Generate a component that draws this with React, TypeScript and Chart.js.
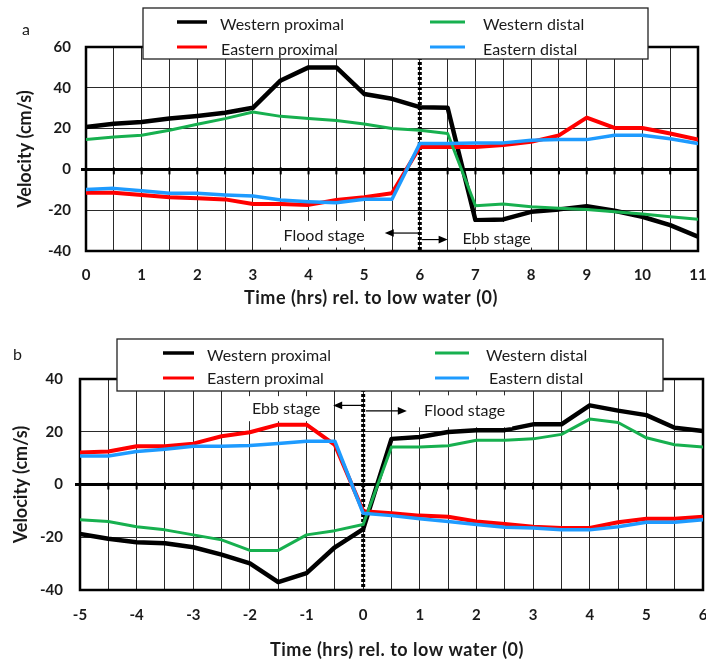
import React, { useEffect, useRef } from 'react';
import { Chart, registerables } from 'chart.js';

Chart.register(...registerables);

// ---------- DATA ----------
const seriesLabels = ['Western proximal', 'Eastern proximal', 'Western distal', 'Eastern distal'];
const seriesColors = ['#000000', '#ff0000', '#17b04f', '#1e9bff'];

// Panel a: time (hrs) relative to low water
const timeA = [0, 0.5, 1, 1.5, 2, 2.5, 3, 3.5, 4, 4.5, 5, 5.5, 6, 6.5, 7, 7.5, 8, 8.5, 9, 9.5, 10, 10.5, 11];
const aWesternProximal = [20.8, 22.4, 23.2, 24.9, 26.2, 27.8, 30.2, 43.6, 50, 50, 37, 34.6, 30.5, 30.2, -24.9, -24.5, -20.8, -19.6, -18, -20.3, -23.2, -27.3, -33];
const aEasternProximal = [-11.4, -11.4, -12.5, -13.7, -14.2, -14.7, -17, -17, -17.4, -15, -13.6, -11.7, 11, 11, 11, 11.9, 13.5, 16.7, 25.4, 20.3, 20.3, 17.6, 14.6];
const aWesternDistal = [14.6, 15.9, 16.7, 19.2, 22.1, 24.9, 28.1, 26, 24.9, 24, 22.3, 20, 19.2, 17.6, -17.8, -17, -18.3, -19.1, -19.6, -20.8, -21.9, -23.2, -24.5];
const aEasternDistal = [-9.8, -9.3, -10.5, -11.7, -11.7, -12.5, -13, -15, -15.8, -16.3, -14.6, -14.6, 12.7, 12.7, 13, 13, 14.3, 14.6, 14.6, 16.7, 16.7, 15, 12.7];
const yRangeA = [-40, 60];
const xRangeA = [0, 11];

// Panel b
const timeB = [-5, -4.5, -4, -3.5, -3, -2.5, -2, -1.5, -1, -0.5, 0, 0.5, 1, 1.5, 2, 2.5, 3, 3.5, 4, 4.5, 5, 5.5, 6];
const bWesternProximal = [-18.8, -20.6, -21.9, -22.3, -23.8, -26.6, -29.9, -37, -33.6, -23.8, -16.9, 17.3, 18, 19.9, 20.6, 20.6, 22.8, 22.8, 30, 28, 26.3, 21.5, 20.3];
const bEasternProximal = [12.1, 12.5, 14.5, 14.5, 15.5, 18.3, 19.8, 22.7, 22.7, 15, -10.1, -10.9, -11.8, -12.2, -14, -15, -16, -16.5, -16.5, -14.3, -13, -13, -12.2];
const bWesternDistal = [-13.4, -14, -16, -17.2, -19.1, -21, -25, -25, -19.1, -17.5, -15.2, 14.2, 14.2, 14.7, 16.8, 16.8, 17.3, 19, 24.8, 23.5, 17.7, 15.1, 14.2];
const bEasternDistal = [10.8, 10.8, 12.5, 13.4, 14.5, 14.5, 14.8, 15.5, 16.4, 16.4, -10.9, -11.8, -13, -14, -15.2, -16.2, -16.5, -17.2, -17.2, -16, -14.3, -14.3, -13.4];
const yRangeB = [-40, 40];
const xRangeB = [-5, 6];

const xTitle = 'Time (hrs) rel. to low water (0)';
const yTitle = 'Velocity (cm/s)';

// ---------- STYLE ----------
const FONT = 'Lato, "Open Sans", sans-serif';
const TEXT = '#1a1a1a';
const GRID = '#2a2a2a';
const seriesWidths = [4.5, 4, 3, 3.5];
const seriesOrder = [3, 2, 1, 0];
const legendWidths = [3.5, 3, 3, 3];

type Note = { text: string; x: number; y: number; box: [number, number, number, number] };
type Arrow = { from: number; to: number; y: number };

type PanelCfg = {
  time: number[];
  series: number[][];
  xRange: number[];
  yRange: number[];
  height: number;
  top: number;
  padTop: number;
  padRight: number;
  yAxisWidth: number;
  xAxisHeight: number;
  yTickPad: number;
  xTickPad: number;
  yTitlePad: number;
  xTitlePos: [number, number];
  dividerX: number;
  notes: Note[];
  arrows: Arrow[];
  legend: {
    box: [number, number, number, number];
    lineX: [number, number][];
    textX: number[];
    lineY: number[];
    textY: number[];
  };
  letter: string;
  letterPos: [number, number];
};

const panelA: PanelCfg = {
  time: timeA,
  series: [aWesternProximal, aEasternProximal, aWesternDistal, aEasternDistal],
  xRange: xRangeA,
  yRange: yRangeA,
  height: 320,
  top: 0,
  padTop: 47,
  padRight: 8,
  yAxisWidth: 86,
  xAxisHeight: 69,
  yTickPad: 15,
  xTickPad: 15,
  yTitlePad: 14,
  xTitlePos: [371, 298],
  dividerX: 6,
  notes: [
    { text: 'Flood stage', x: 4.28, y: -32.7, box: [3.45, 5.07, -25.3, -38.3] },
    { text: 'Ebb stage', x: 7.38, y: -33.9, box: [6.6, 8.2, -25.8, -38.3] },
  ],
  arrows: [
    { from: 6, to: 5.37, y: -31.2 },
    { from: 6.04, to: 6.5, y: -34.4 },
  ],
  legend: {
    box: [143, 8, 505, 51],
    lineX: [[177, 207], [177, 207], [430, 465], [430, 465]],
    textX: [220, 221, 483, 483],
    lineY: [22, 47, 22, 47],
    textY: [25, 50, 25, 50],
  },
  letter: 'a',
  letterPos: [22, 30],
};

const panelB: PanelCfg = {
  time: timeB,
  series: [bWesternProximal, bEasternProximal, bWesternDistal, bEasternDistal],
  xRange: xRangeB,
  yRange: yRangeB,
  height: 344,
  top: 320,
  padTop: 59,
  padRight: 3,
  yAxisWidth: 80,
  xAxisHeight: 74,
  yTickPad: 17,
  xTickPad: 16,
  yTitlePad: 10,
  xTitlePos: [397, 330],
  dividerX: 0,
  notes: [
    { text: 'Ebb stage', x: -1.36, y: 28.5, box: [-2.09, -0.59, 33.5, 24] },
    { text: 'Flood stage', x: 1.79, y: 27.8, box: [0.91, 2.63, 33.8, 21.7] },
  ],
  arrows: [
    { from: 0, to: -0.53, y: 30 },
    { from: 0.05, to: 0.77, y: 27.9 },
  ],
  legend: {
    box: [117, 19, 546, 52],
    lineX: [[163, 194], [163, 194], [435, 469], [435, 469]],
    textX: [207, 207, 486, 489],
    lineY: [33, 58, 33, 58],
    textY: [36, 59, 36, 59],
  },
  letter: 'b',
  letterPos: [13, 35],
};

function makeOverlay(p: PanelCfg) {
  return {
    id: 'overlay',
    beforeDatasetsDraw(chart: any) {
      const { ctx, chartArea: a, scales } = chart;
      const x = scales.x;
      const y = scales.y;
      const y0 = y.getPixelForValue(0);
      ctx.save();
      ctx.strokeStyle = '#000';
      // zero line
      ctx.lineWidth = 3;
      ctx.beginPath();
      ctx.moveTo(a.left - 5, y0);
      ctx.lineTo(a.right, y0);
      ctx.stroke();
      // ticks on zero line
      ctx.lineWidth = 2;
      x.ticks.forEach((t: any) => {
        const px = x.getPixelForValue(t.value);
        ctx.beginPath();
        ctx.moveTo(px, y0 - 2);
        ctx.lineTo(px, y0 + 5);
        ctx.stroke();
      });
      // dotted divider
      const dx = x.getPixelForValue(p.dividerX);
      ctx.setLineDash([3, 2]);
      ctx.lineWidth = 4;
      ctx.beginPath();
      ctx.moveTo(dx, a.top);
      ctx.lineTo(dx, a.bottom);
      ctx.stroke();
      ctx.setLineDash([]);
      // frame
      ctx.lineWidth = 2.5;
      ctx.strokeRect(a.left, a.top, a.right - a.left, a.bottom - a.top);
      ctx.restore();
    },
    afterDatasetsDraw(chart: any) {
      const { ctx, scales } = chart;
      const x = scales.x;
      const y = scales.y;
      ctx.save();
      // note boxes and text
      p.notes.forEach((n) => {
        const x1 = x.getPixelForValue(n.box[0]);
        const x2 = x.getPixelForValue(n.box[1]);
        const y1 = y.getPixelForValue(n.box[2]);
        const y2 = y.getPixelForValue(n.box[3]);
        ctx.fillStyle = '#fff';
        ctx.fillRect(x1, y1, x2 - x1, y2 - y1);
      });
      ctx.fillStyle = TEXT;
      ctx.font = `16px ${FONT}`;
      ctx.textAlign = 'center';
      ctx.textBaseline = 'middle';
      p.notes.forEach((n) => {
        ctx.fillText(n.text, x.getPixelForValue(n.x), y.getPixelForValue(n.y));
      });
      // arrows
      ctx.strokeStyle = '#000';
      ctx.fillStyle = '#000';
      ctx.lineWidth = 1.2;
      p.arrows.forEach((ar) => {
        const x1 = x.getPixelForValue(ar.from);
        const x2 = x.getPixelForValue(ar.to);
        const py = y.getPixelForValue(ar.y);
        const dir = Math.sign(x2 - x1);
        ctx.beginPath();
        ctx.moveTo(x1, py);
        ctx.lineTo(x2 - dir * 6, py);
        ctx.stroke();
        ctx.beginPath();
        ctx.moveTo(x2, py);
        ctx.lineTo(x2 - dir * 9, py - 3.8);
        ctx.lineTo(x2 - dir * 9, py + 3.8);
        ctx.closePath();
        ctx.fill();
      });
      // x-axis title
      ctx.fillStyle = TEXT;
      ctx.font = `bold 18px ${FONT}`;
      try {
        (ctx as any).letterSpacing = '0.5px';
      } catch (e) {}
      ctx.textAlign = 'center';
      ctx.textBaseline = 'middle';
      ctx.fillText(xTitle, p.xTitlePos[0], p.xTitlePos[1]);
      try {
        (ctx as any).letterSpacing = '0px';
      } catch (e) {}
      // legend
      const L = p.legend;
      ctx.fillStyle = '#fff';
      ctx.fillRect(L.box[0], L.box[1], L.box[2], L.box[3]);
      ctx.strokeStyle = '#222';
      ctx.lineWidth = 1.3;
      ctx.strokeRect(L.box[0], L.box[1], L.box[2], L.box[3]);
      ctx.font = `16px ${FONT}`;
      ctx.textAlign = 'left';
      ctx.textBaseline = 'middle';
      chart.data.datasets.forEach((ds: any, i: number) => {
        ctx.strokeStyle = ds.borderColor;
        ctx.lineWidth = legendWidths[i];
        ctx.beginPath();
        ctx.moveTo(L.lineX[i][0], L.lineY[i]);
        ctx.lineTo(L.lineX[i][1], L.lineY[i]);
        ctx.stroke();
        ctx.fillStyle = TEXT;
        ctx.fillText(ds.label, L.textX[i], L.textY[i]);
      });
      // panel letter
      ctx.fillStyle = TEXT;
      ctx.font = `16px ${FONT}`;
      ctx.fillText(p.letter, p.letterPos[0], p.letterPos[1]);
      ctx.restore();
    },
  };
}

function buildConfig(p: PanelCfg): any {
  const datasets = p.series.map((vals, i) => ({
    label: seriesLabels[i],
    data: p.time.map((t, j) => ({ x: t, y: vals[j] })),
    borderColor: seriesColors[i],
    backgroundColor: seriesColors[i],
    borderWidth: seriesWidths[i],
    pointRadius: 0,
    tension: 0,
    fill: false,
    borderJoinStyle: 'round',
    borderCapStyle: 'round',
    order: seriesOrder[i],
  }));
  const tickFont = { family: FONT, size: 15, weight: 'bold' };
  const titleFont = { family: FONT, size: 18, weight: 'bold' };
  return {
    type: 'line',
    data: { datasets },
    options: {
      animation: false,
      responsive: false,
      maintainAspectRatio: false,
      devicePixelRatio: 1,
      events: [],
      layout: { autoPadding: false, padding: { left: 0, right: p.padRight, top: p.padTop, bottom: 0 } },
      plugins: { legend: { display: false }, tooltip: { enabled: false } },
      scales: {
        x: {
          type: 'linear',
          min: p.xRange[0],
          max: p.xRange[1],
          afterFit: (s: any) => {
            s.height = p.xAxisHeight;
            s.paddingLeft = 0;
            s.paddingRight = 0;
          },
          ticks: {
            stepSize: 0.5,
            autoSkip: false,
            maxRotation: 0,
            padding: p.xTickPad,
            font: tickFont,
            color: TEXT,
            callback: (v: any) => (Number.isInteger(Number(v)) ? String(v) : ''),
          },
          grid: { color: GRID, lineWidth: 1, drawTicks: false },
          border: { display: false },
          title: { display: false },
        },
        y: {
          type: 'linear',
          min: p.yRange[0],
          max: p.yRange[1],
          afterFit: (s: any) => {
            s.width = p.yAxisWidth;
            s.paddingTop = 0;
            s.paddingBottom = 0;
          },
          ticks: { stepSize: 20, padding: p.yTickPad, font: tickFont, color: TEXT },
          grid: { color: GRID, lineWidth: 1, drawTicks: false },
          border: { display: false },
          title: { display: true, text: yTitle, font: titleFont, color: TEXT, padding: { top: p.yTitlePad, bottom: 0 } },
        },
      },
    },
    plugins: [makeOverlay(p)],
  };
}

function Panel({ cfg }: { cfg: PanelCfg }) {
  const ref = useRef<HTMLCanvasElement>(null);
  useEffect(() => {
    const chart = new Chart(ref.current as HTMLCanvasElement, buildConfig(cfg));
    return () => chart.destroy();
  }, [cfg]);
  return (
    <canvas
      ref={ref}
      width={706}
      height={cfg.height}
      style={{ position: 'absolute', left: 0, top: cfg.top, width: 706, height: cfg.height, display: 'block' }}
    />
  );
}

export default function App() {
  return (
    <div style={{ position: 'absolute', left: 0, top: 0, width: 706, height: 664, background: '#fff' }}>
      <Panel cfg={panelA} />
      <Panel cfg={panelB} />
    </div>
  );
}
